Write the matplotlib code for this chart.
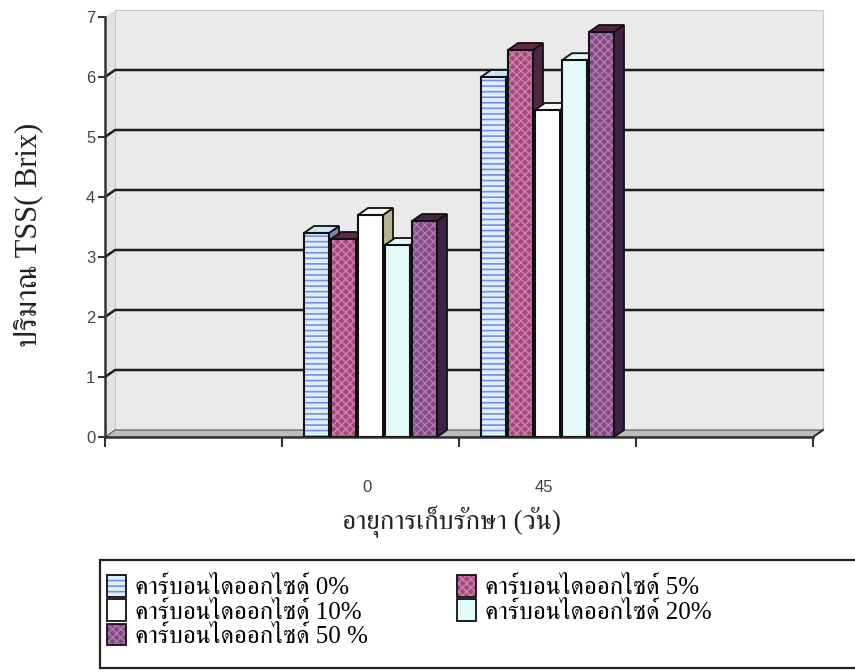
import matplotlib
matplotlib.use('Agg')
import matplotlib.pyplot as plt
from matplotlib import font_manager as fm
from matplotlib.ft2font import FT2Font
from matplotlib.patches import Rectangle, Polygon, Patch
from matplotlib.legend_handler import HandlerTuple

# data
categories = ['', '0', '45', '']
series_names = ['คาร์บอนไดออกไซด์ 0%', 'คาร์บอนไดออกไซด์ 5%', 'คาร์บอนไดออกไซด์ 10%',
                'คาร์บอนไดออกไซด์ 20%', 'คาร์บอนไดออกไซด์ 50 %']
tss_day0 = [3.4, 3.3, 3.7, 3.2, 3.6]
tss_day45 = [6.0, 6.45, 5.45, 6.28, 6.75]
y_ticks = [0, 1, 2, 3, 4, 5, 6, 7]

# look for a font that has thai glyphs
def find_thai():
    found = []
    for f in fm.fontManager.ttflist:
        try:
            if 0x0E04 in FT2Font(f.fname).get_charmap():
                found.append(f.name)
        except Exception:
            pass
    found.sort(key=lambda n: ('Serif' not in n, n))
    return found

thai = find_thai()
serif_fam = ['Liberation Serif'] + thai[:1] + ['DejaVu Sans']

plt.rcParams['hatch.linewidth'] = 1.2

face = ['#d5f3fb', '#a8467c', '#ffffff', '#e4fbfb', '#874487']
hatch = ['---', 'xxxx', None, None, 'xxxx']
hatch_col = ['#8c84e6', '#c77fad', None, None, '#a77aa7']
top_col = ['#c9e6f6', '#5e2846', '#f6f6f6', '#e6f6f6', '#4a2448']
side_col = ['#7f83b8', '#4f2642', '#b8b58c', '#a3bcbc', '#3f2442']

fig = plt.figure(figsize=(8.55, 6.72), dpi=100)
ax = fig.add_axes([105 / 855, 1 - 437 / 672, 708 / 855, 420 / 672])
ax.set_xlim(0, 4)
ax.set_ylim(0, 7)
ax.set_facecolor('none')

dx = 10 / 177
dy = 7 / 60
ncat = len(categories)

# walls and floor
ax.add_patch(Polygon([(dx, dy), (ncat + dx, dy), (ncat + dx, 7 + dy), (dx, 7 + dy)],
                     closed=True, facecolor='#eaeaea', edgecolor='#c8c8c8', lw=0.8,
                     clip_on=False, zorder=0))
ax.add_patch(Polygon([(0, 0), (dx, dy), (dx, 7 + dy), (0, 7)], closed=True,
                     facecolor='#e2e2e2', edgecolor='none', clip_on=False, zorder=0))
ax.add_patch(Polygon([(0, 0), (ncat, 0), (ncat + dx, dy), (dx, dy)], closed=True,
                     facecolor='#bdbdbd', edgecolor='#555555', lw=0.8, clip_on=False, zorder=0.5))

# gridlines on the walls
for v in y_ticks[1:-1]:
    ax.plot([0, dx, ncat + dx], [v, v + dy, v + dy], color='#1e1e1e', lw=1.8,
            clip_on=False, zorder=1)

pitch = 27 / 177
w = 25 / 177
for ci, vals in ((1, tss_day0), (2, tss_day45)):
    for i, h in enumerate(vals):
        x = ci + 0.5 + (i - 2) * pitch - w / 2
        z = 2 + ci + i * 0.1
        ax.add_patch(Polygon([(x + w, 0), (x + w + dx, dy), (x + w + dx, h + dy), (x + w, h)],
                             closed=True, facecolor=side_col[i], edgecolor='#111111', lw=1.3,
                             clip_on=False, zorder=z))
        ax.add_patch(Polygon([(x, h), (x + w, h), (x + w + dx, h + dy), (x + dx, h + dy)],
                             closed=True, facecolor=top_col[i], edgecolor='#111111', lw=1.3,
                             clip_on=False, zorder=z))
        if hatch[i]:
            ax.bar(x, h, w, align='edge', color=face[i], hatch=hatch[i],
                   edgecolor=hatch_col[i], lw=0, zorder=z)
        else:
            ax.bar(x, h, w, align='edge', color=face[i], lw=0, zorder=z)
        ax.bar(x, h, w, align='edge', fill=False, edgecolor='#111111', lw=1.5, zorder=z)

# right end of the floor
ax.plot([ncat, ncat + dx], [0, dy], color='#333333', lw=1.5, clip_on=False, zorder=1)

for s in ['top', 'right']:
    ax.spines[s].set_visible(False)
for s in ['left', 'bottom']:
    ax.spines[s].set_color('#333333')
    ax.spines[s].set_linewidth(1.8)
    ax.spines[s].set_zorder(1.5)

ax.set_yticks(y_ticks)
ax.set_xticks(range(ncat + 1))
ax.set_xticklabels([])
ax.set_xticks([c + 0.5 - 0.02 for c in range(ncat)], minor=True)
ax.set_xticklabels(categories, minor=True)
ax.tick_params(axis='x', which='major', length=7, width=1.5, color='#333333', direction='out')
ax.tick_params(axis='x', which='minor', length=0, pad=31, labelsize=12, labelcolor='#444444')
ax.tick_params(axis='y', length=5, width=1.5, color='#333333', labelsize=12,
               labelcolor='#444444', pad=2)
for t in ax.get_xticklabels(minor=True) + ax.get_yticklabels():
    t.set_fontfamily('Liberation Sans')

fig.text(28 / 855, 1 - 235 / 672, 'ปริมาณ TSS( Brix)', rotation=90, ha='center',
         va='center', fontsize=22, family=serif_fam, color='#222222')
fig.text(451 / 855, 1 - 522 / 672, 'อายุการเก็บรักษา (วัน)', ha='center', va='center',
         fontsize=19.5, family=serif_fam, color='#222222')

# legend box
fig.add_artist(Rectangle((100 / 855, 1 - 668 / 672), 760 / 855, 108 / 672,
                         transform=fig.transFigure, facecolor='white', edgecolor='#222222',
                         lw=1.6))
handles = []
for i in range(len(series_names)):
    base = Patch(facecolor=face[i], hatch=hatch[i],
                 edgecolor=hatch_col[i] if hatch[i] else face[i], lw=0)
    outline = Patch(fill=False, edgecolor='#111111', lw=1.3)
    handles.append((base, outline))
order = [0, 2, 4, 1, 3]
fig.legend([handles[i] for i in order], [series_names[i] for i in order],
           handler_map={tuple: HandlerTuple(ndivide=1)}, ncol=2, frameon=False,
           loc='upper left', bbox_to_anchor=(107 / 855, 1 - 575 / 672),
           prop={'family': serif_fam, 'size': 18}, handlelength=0.75, handleheight=0.95,
           handletextpad=0.35, labelspacing=0.0, columnspacing=3.6, borderpad=0,
           borderaxespad=0)

fig.savefig('out.png', dpi=100)
